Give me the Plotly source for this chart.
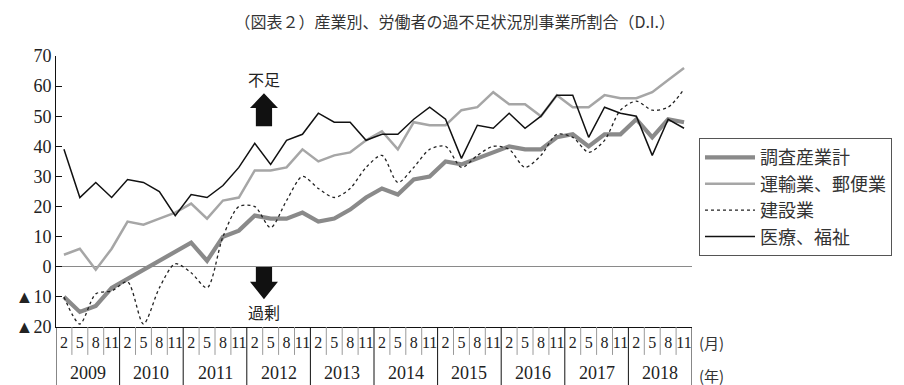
import plotly.graph_objects as go

# Survey quarters: February, May, August, November of each year
years = [str(y) for y in range(2009, 2019)]
months = ["2", "5", "8", "11"]
month_labels = months * len(years)

# D.I. by industry (share of establishments short of staff minus those with a surplus)
total = [-10, -15, -13, -7, -4, -1, 2, 5, 8, 2, 10, 12, 17, 16, 16, 18, 15, 16, 19, 23,
         26, 24, 29, 30, 35, 34, 36, 38, 40, 39, 39, 43, 44, 40, 44, 44, 49, 43, 49, 48]
transport = [4, 6, -1, 6, 15, 14, 16, 18, 21, 16, 22, 23, 32, 32, 33, 39, 35, 37, 38, 42,
             45, 39, 48, 47, 47, 52, 53, 58, 54, 54, 50, 57, 53, 53, 57, 56, 56, 58, 62, 66]
construction = [-10, -19, -9, -8, -5, -19, -7, 1, -2, -7, 10, 20, 20, 13, 22, 30, 26, 23, 26, 33,
                37, 28, 33, 39, 40, 33, 37, 40, 39, 33, 37, 44, 43, 38, 42, 52, 55, 52, 53, 59]
medical = [39, 23, 28, 23, 29, 28, 25, 17, 24, 23, 27, 33, 41, 34, 42, 44, 51, 48, 48, 42,
           44, 44, 49, 53, 49, 36, 47, 46, 51, 46, 50, 57, 57, 43, 53, 51, 50, 37, 49, 46]

series_names = ["調査産業計", "運輸業、郵便業", "建設業", "医療、福祉"]

y_ticks = [70, 60, 50, 40, 30, 20, 10, 0, -10, -20]
y_tick_text = ["70", "60", "50", "40", "30", "20", "10", "0", "▲10", "▲20"]

x = list(range(len(total)))

SERIF = "Liberation Serif"
CJK = "Noto Sans CJK JP"

fig = go.Figure()
fig.add_trace(go.Scatter(x=x, y=total, name=series_names[0], mode="lines",
                         line=dict(color="#8a8a8a", width=4.2)))
fig.add_trace(go.Scatter(x=x, y=transport, name=series_names[1], mode="lines",
                         line=dict(color="#a6a6a6", width=2.5)))
fig.add_trace(go.Scatter(x=x, y=construction, name=series_names[2], mode="lines",
                         line=dict(color="#222222", width=1.3, dash="3px,3px",
                                   shape="spline", smoothing=0.8)))
fig.add_trace(go.Scatter(x=x, y=medical, name=series_names[3], mode="lines",
                         line=dict(color="#111111", width=1.5)))

shapes = []
# Category table below the plot: month cells (grey) and year cells (black)
n = len(x)
for k in range(0, n + 1):
    xb = k - 0.5
    if k % 4 == 0:
        shapes.append(dict(type="line", xref="x", yref="paper", x0=xb, x1=xb,
                           y0=0, y1=-0.22, line=dict(color="#111111", width=1)))
    else:
        shapes.append(dict(type="line", xref="x", yref="paper", x0=xb, x1=xb,
                           y0=0, y1=-0.103, line=dict(color="#9a9a9a", width=1)))

# Block arrows: shortage (up) and surplus (down)
ax_c = 12.58
hw, sw = 0.88, 0.51
shapes.append(dict(type="path", xref="x", yref="y", fillcolor="#111111",
                   line=dict(width=0),
                   path=(f"M{ax_c},{57.6} L{ax_c + hw},{52.7} L{ax_c + sw},{52.7} "
                         f"L{ax_c + sw},{46.7} L{ax_c - sw},{46.7} L{ax_c - sw},{52.7} "
                         f"L{ax_c - hw},{52.7} Z")))
shapes.append(dict(type="path", xref="x", yref="y", fillcolor="#111111",
                   line=dict(width=0),
                   path=(f"M{ax_c - sw},{-0.1} L{ax_c + sw},{-0.1} L{ax_c + sw},{-5.0} "
                         f"L{ax_c + hw},{-5.0} L{ax_c},{-10.8} L{ax_c - hw},{-5.0} "
                         f"L{ax_c - sw},{-5.0} Z")))

annotations = []
for j, yr in enumerate(years):
    annotations.append(dict(x=4 * j + 1.5, y=-0.17, xref="x", yref="paper",
                            text=yr, showarrow=False, yanchor="middle",
                            font=dict(family=SERIF, size=18, color="#222222")))
annotations.append(dict(x=1.008, y=-0.058, xref="paper", yref="paper", text="(月)",
                        showarrow=False, xanchor="left", yanchor="middle",
                        font=dict(family=CJK, size=15, color="#333333")))
annotations.append(dict(x=1.008, y=-0.178, xref="paper", yref="paper", text="(年)",
                        showarrow=False, xanchor="left", yanchor="middle",
                        font=dict(family=CJK, size=15, color="#333333")))
annotations.append(dict(x=ax_c, y=62.4, xref="x", yref="y", text="不足",
                        showarrow=False, yanchor="middle",
                        font=dict(family=CJK, size=16, color="#222222")))
annotations.append(dict(x=ax_c, y=-15.0, xref="x", yref="y", text="過剰",
                        showarrow=False, yanchor="middle",
                        font=dict(family=CJK, size=16, color="#222222")))

fig.update_layout(
    width=904, height=385,
    margin=dict(l=56, r=204, t=56, b=58),
    paper_bgcolor="white", plot_bgcolor="white",
    title=dict(text="（図表２）産業別、労働者の過不足状況別事業所割合（D.I.）",
               x=0.503, xanchor="center", y=0.943, yanchor="middle",
               font=dict(family=CJK, size=16, color="#333333")),
    xaxis=dict(range=[-0.5, n - 0.5], showgrid=False, zeroline=False,
               showline=True, linecolor="#111111", linewidth=1,
               tickmode="array", tickvals=x, ticktext=month_labels,
               ticks="", ticklabelstandoff=1,
               tickfont=dict(family=SERIF, size=16, color="#222222")),
    yaxis=dict(range=[-20, 70], showgrid=False, zeroline=True,
               zerolinecolor="#8a8a8a", zerolinewidth=1.2,
               showline=True, linecolor="#111111", linewidth=1,
               tickmode="array", tickvals=y_ticks, ticktext=y_tick_text,
               ticks="inside", ticklen=6, tickcolor="#111111",
               tickfont=dict(family=SERIF, size=18, color="#222222")),
    legend=dict(x=1.011, y=0.697, xanchor="left", yanchor="top",
                bordercolor="#555555", borderwidth=1, bgcolor="white",
                font=dict(family=CJK, size=18, color="#333333"),
                tracegroupgap=0, itemwidth=50),
    shapes=shapes,
    annotations=annotations,
)

fig.write_html("out.html")
